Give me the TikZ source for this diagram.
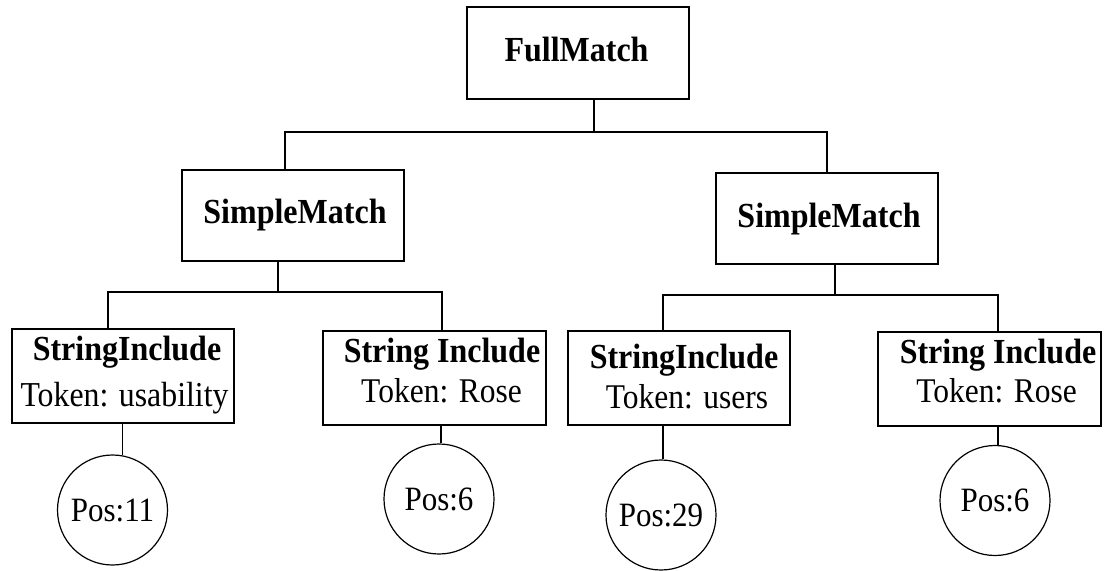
\documentclass[tikz,border=0pt]{standalone}
\usepackage{fontspec}
\usepackage{graphicx}
\setmainfont{Liberation Serif}
% slightly taller glyphs, as in the printed tree
\newcommand{\vstretch}[1]{\scalebox{1}[1.1]{#1}}

\tikzset{
  box/.style={draw, line width=1.5pt, inner sep=0pt, minimum width=222pt},
  bubble/.style={draw, circle, line width=1.2pt, minimum size=110pt, inner sep=0pt,
                 font=\fontsize{31}{31}\selectfont},
  wire/.style={line width=1.3pt},
  head/.style={anchor=base, inner sep=0pt, font=\bfseries\fontsize{32}{32}\selectfont},
  tok/.style={anchor=base, inner sep=0pt, font=\fontsize{31.5}{32}\selectfont},
}

\begin{document}
\begin{tikzpicture}[x=1pt, y=-1pt]
  \useasboundingbox (0,0) rectangle (1105,570);

  % ---- boxes ----
  \node[box, minimum height=92pt] (fm)  at (578,53)    {};
  \node[box, minimum height=91pt] (sm1) at (293,215.5) {};
  \node[box, minimum height=91pt] (sm2) at (827,218.5) {};
  \node[box, minimum height=94pt] (si1) at (123,376)   {};
  \node[box, minimum height=94pt, minimum width=223pt] (si2) at (434.5,378) {};
  \node[box, minimum height=94pt] (si3) at (679,378)   {};
  \node[box, minimum height=94pt, minimum width=223pt] (si4) at (989.5,379) {};

  % ---- box texts ----
  \node[head] (fmt)  at (576.5,61) {\vstretch{FullMatch}};
  \node[head] (sm1t) at (295,223)  {\vstretch{SimpleMatch}};
  \node[head] (sm2t) at (829,227)  {\vstretch{SimpleMatch}};

  \node[head] (si1a) at (127,360)   {\vstretch{StringInclude}};
  \node[tok, font=\fontsize{31.8}{32}\selectfont] (si1b) at (124.5,406) {\vstretch{Token: usability}};
  \node[head] (si2a) at (442,362)   {\vstretch{String Include}};
  \node[tok]  (si2b) at (441.5,402) {\vstretch{Token: Rose}};
  \node[head] (si3a) at (684,368)   {\vstretch{StringInclude}};
  \node[tok]  (si3b) at (687,408)   {\vstretch{Token: users}};
  \node[head] (si4a) at (998,363)   {\vstretch{String Include}};
  \node[tok]  (si4b) at (996.5,402) {\vstretch{Token: Rose}};

  % ---- position leaves ----
  \node[bubble] (c1) at (112.5,510) {\vstretch{Pos:11}};
  \node[bubble] (c2) at (439,499)   {\vstretch{Pos:6}};
  \node[bubble] (c3) at (661,515)   {\vstretch{Pos:29}};
  \node[bubble] (c4) at (995,500.5) {\vstretch{Pos:6}};

  % ---- junctions of the tree ----
  \coordinate (b0)  at (594,132);
  \coordinate (b0l) at (285,132);
  \coordinate (b0r) at (827,132);
  \coordinate (b1)  at (278,292);
  \coordinate (b1l) at (108,292);
  \coordinate (b1r) at (442,292);
  \coordinate (b2)  at (835,295);
  \coordinate (b2l) at (663,295);
  \coordinate (b2r) at (998,295);

  % FullMatch -> SimpleMatch
  \draw[wire] (fm.south -| b0) -- (b0);
  \draw[wire] (sm1.north -| b0l) -- (b0l) -- (b0r) -- (sm2.north -| b0r);

  % SimpleMatch -> StringInclude
  \draw[wire] (sm1.south -| b1) -- (b1);
  \draw[wire] (si1.north -| b1l) -- (b1l) -- (b1r) -- (si2.north -| b1r);
  \draw[wire] (sm2.south -| b2) -- (b2);
  \draw[wire] (si3.north -| b2l) -- (b2l) -- (b2r) -- (si4.north -| b2r);

  % StringInclude -> position
  \draw[wire] (si1.south -| c1.80) -- (c1.80);
  \draw[wire] (si2.south -| c2.88) -- (c2.88);
  \draw[wire] (si3.south -| c3.88) -- (c3.88);
  \draw[wire] (si4.south -| c4.87) -- (c4.87);
\end{tikzpicture}
\end{document}
